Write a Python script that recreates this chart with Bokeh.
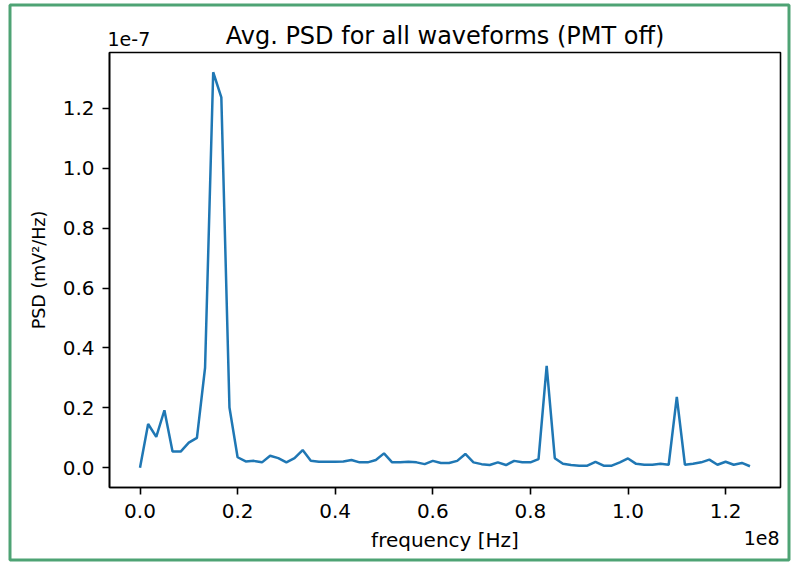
import math
from bokeh.plotting import figure
from bokeh.models import FixedTicker, PrintfTickFormatter, Label, Range1d, BoxAnnotation
from bokeh.embed import file_html
from bokeh.resources import INLINE

# frequency bins in MHz (0 .. 125 MHz)
freq_mhz = [0.0, 1.667, 3.333, 5.0, 6.667, 8.333, 10.0, 11.667, 13.333, 15.0,
            16.667, 18.333, 20.0, 21.667, 23.333, 25.0, 26.667, 28.333, 30.0, 31.667,
            33.333, 35.0, 36.667, 38.333, 40.0, 41.667, 43.333, 45.0, 46.667, 48.333,
            50.0, 51.667, 53.333, 55.0, 56.667, 58.333, 60.0, 61.667, 63.333, 65.0,
            66.667, 68.333, 70.0, 71.667, 73.333, 75.0, 76.667, 78.333, 80.0, 81.667,
            83.333, 85.0, 86.667, 88.333, 90.0, 91.667, 93.333, 95.0, 96.667, 98.333,
            100.0, 101.667, 103.333, 105.0, 106.667, 108.333, 110.0, 111.667, 113.333, 115.0,
            116.667, 118.333, 120.0, 121.667, 123.333, 125.0]

# average PSD in units of 1e-7 mV^2/Hz
psd_e7 = [0.0, 0.146, 0.103, 0.192, 0.054, 0.054, 0.084, 0.10, 0.334, 1.321,
          1.237, 0.201, 0.035, 0.021, 0.023, 0.018, 0.040, 0.032, 0.018, 0.032,
          0.059, 0.023, 0.020, 0.020, 0.020, 0.021, 0.026, 0.018, 0.018, 0.026,
          0.048, 0.018, 0.018, 0.020, 0.018, 0.012, 0.023, 0.016, 0.016, 0.023,
          0.046, 0.018, 0.012, 0.009, 0.018, 0.009, 0.023, 0.018, 0.018, 0.029,
          0.340, 0.032, 0.013, 0.009, 0.007, 0.007, 0.020, 0.007, 0.007, 0.018,
          0.031, 0.013, 0.010, 0.010, 0.013, 0.010, 0.237, 0.010, 0.013, 0.018,
          0.027, 0.010, 0.020, 0.010, 0.016, 0.005]

x_ticks = [0.0, 0.2, 0.4, 0.6, 0.8, 1.0, 1.2]
y_ticks = [0.0, 0.2, 0.4, 0.6, 0.8, 1.0, 1.2]

title_text = "Avg. PSD for all waveforms (PMT off)"
x_label = "frequency [Hz]"
y_label = "PSD (mV\u00b2/Hz)"
x_offset_text = "1e8"
y_offset_text = "1e-7"

FONT = "DejaVu Sans"
BLACK = "#000000"
GREEN = "#4ea374"

x_vals = [f / 100.0 for f in freq_mhz]  # in units of 1e8 Hz

# axes box limits (data) and where the box sits on the canvas (px)
x0, x1 = -0.0625, 1.3125
y0, y1 = -0.066, 1.387
W, H = 791, 563
BOX_L, BOX_R, BOX_T, BOX_B = 109, 780, 52, 487
kx = (x1 - x0) / (BOX_R - BOX_L)
ky = (y1 - y0) / (BOX_B - BOX_T)
xr0, xr1 = x0 - BOX_L * kx, x1 + (W - BOX_R) * kx
yr0, yr1 = y0 - (H - BOX_B) * ky, y1 + BOX_T * ky


def px_x(px):
    return xr0 + px * kx


def px_y(py):
    return yr1 - py * ky


p = figure(width=W, height=H, output_backend="svg", toolbar_location=None,
           x_range=Range1d(xr0, xr1), y_range=Range1d(yr0, yr1),
           min_border=0, min_border_left=0, min_border_right=0,
           min_border_top=0, min_border_bottom=0, title=None)

p.grid.visible = False
p.outline_line_color = None
p.background_fill_color = "white"
p.border_fill_color = "white"

# outer green frame of the picture
p.add_layout(BoxAnnotation(left=px_x(9.5), right=px_x(788.5), top=px_y(4.5), bottom=px_y(H - 3.5),
                           fill_color=None, line_color=GREEN, line_width=3, line_alpha=1.0))

p.line(x_vals, psd_e7, line_color="#1f77b4", line_width=2.5)

# axes box
p.add_layout(BoxAnnotation(left=x0, right=x1, bottom=y0, top=y1, fill_color=None,
                           line_color=BLACK, line_width=1.6, line_alpha=1.0))

for ax in (p.xaxis[0], p.yaxis[0]):
    ax.axis_line_width = 1.6
    ax.axis_line_color = BLACK
    ax.major_tick_line_width = 1.6
    ax.major_tick_line_color = BLACK
    ax.major_tick_out = 7
    ax.major_tick_in = 0
    ax.minor_tick_line_color = None
    ax.major_label_text_font = FONT
    ax.major_label_text_font_size = "20px"
    ax.major_label_text_color = BLACK
    ax.formatter = PrintfTickFormatter(format="%.1f")

p.xaxis.ticker = FixedTicker(ticks=x_ticks)
p.yaxis.ticker = FixedTicker(ticks=y_ticks)
p.xaxis.fixed_location = y0
p.yaxis.fixed_location = x0
p.xaxis.bounds = (x0, x1)
p.yaxis.bounds = (y0, y1)
p.xaxis.major_label_standoff = 9
p.yaxis.major_label_standoff = 8

xc = (x0 + x1) / 2
yc = (y0 + y1) / 2

p.add_layout(Label(x=xc, y=y1, text=title_text, text_align="center",
                   text_baseline="alphabetic", y_offset=17, text_font=FONT,
                   text_font_size="24px", text_color=BLACK))
p.add_layout(Label(x=xc, y=y0, text=x_label, text_align="center",
                   text_baseline="alphabetic", y_offset=-52, text_font=FONT,
                   text_font_size="20px", text_color=BLACK))
p.add_layout(Label(x=x0, y=yc, text=y_label, text_align="center",
                   text_baseline="middle", angle=math.pi / 2, x_offset=-71,
                   text_font=FONT, text_font_size="17.5px", text_color=BLACK))
p.add_layout(Label(x=x0, y=y1, text=y_offset_text, text_align="left",
                   text_baseline="alphabetic", x_offset=-2, y_offset=14,
                   text_font=FONT, text_font_size="19px", text_color=BLACK))
p.add_layout(Label(x=x1, y=y0, text=x_offset_text, text_align="right",
                   text_baseline="alphabetic", x_offset=-1, y_offset=-50,
                   text_font=FONT, text_font_size="19px", text_color=BLACK))

open("out.html", "w").write(file_html(p, INLINE))
